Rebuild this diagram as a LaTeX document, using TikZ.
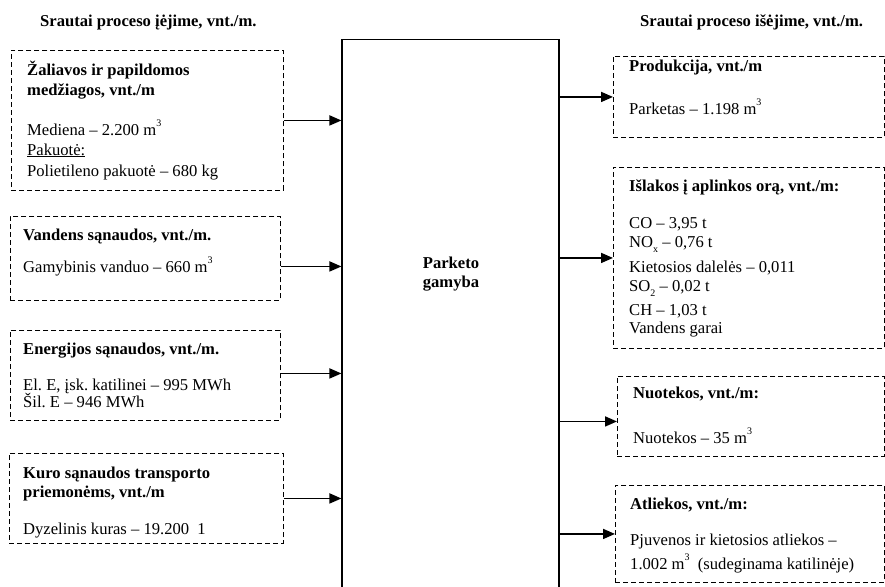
\documentclass[tikz,border=0pt]{standalone}
\usepackage{fontspec}
\setmainfont{Liberation Serif}
\usetikzlibrary{arrows.meta}
\frenchspacing
\tikzset{
 dbox/.style={draw, dash pattern=on 5pt off 3pt, line width=0.9pt, inner sep=0pt, anchor=north west},
 tl/.style={anchor=base west, inner sep=0pt, font=\fontsize{16.6}{20}\selectfont},
 tlb/.style={anchor=base west, inner sep=0pt, font=\fontsize{16.6}{20}\selectfont\bfseries},
 arr/.style={line width=1.7pt, -{Triangle[length=12pt,width=10pt]}},
}
\newcommand{\mcub}{\raisebox{8.5pt}{\fontsize{10}{10}\selectfont 3}}
\newcommand{\msub}[1]{\raisebox{-5pt}{\fontsize{10}{10}\selectfont #1}}
\begin{document}
\begin{tikzpicture}[x=1pt,y=-1pt]
\useasboundingbox (0,0) rectangle (885,586);
\begin{scope}
\clip (0,0) rectangle (885,586);
% headers
\node[tlb] (hin) at (40,27) {Srautai proceso įėjime, vnt./m.};
\node[tlb] (hout) at (640,27) {Srautai proceso išėjime, vnt./m.};
% central box
\node[draw, line width=1.1pt, minimum width=217pt, minimum height=600pt, anchor=north, inner sep=0pt] (c) at (450.5,39) {};
\node[font=\fontsize{16.6}{19}\selectfont\bfseries, align=left, inner sep=0pt] (ct) at (451,274) {Parketo\\gamyba};
% left boxes
\node[dbox, minimum width=272pt, minimum height=140pt] (b1) at (11,50) {};
\node[dbox, minimum width=270pt, minimum height=84pt] (b2) at (10,216) {};
\node[dbox, minimum width=270pt, minimum height=90pt] (b3) at (10,330) {};
\node[dbox, minimum width=274pt, minimum height=90pt] (b4) at (9,453) {};
% right boxes
\node[dbox, minimum width=271pt, minimum height=81pt] (r1) at (613,56) {};
\node[dbox, minimum width=271pt, minimum height=181pt] (r2) at (613,167) {};
\node[dbox, minimum width=267pt, minimum height=80pt] (r3) at (617,376) {};
\node[dbox, minimum width=269pt, minimum height=97pt] (r4) at (615,485) {};
% box 1 text
\node[tlb] (b1a) at (27,75) {Žaliavos ir papildomos};
\node[tlb] (b1b) at (27,95) {medžiagos, vnt./m};
\node[tl] (b1c) at (27,135) {Mediena – 2.200 m\mcub};
\node[tl] (b1d) at (27,155) {\underline{Pakuotė:}};
\node[tl] (b1e) at (27,176) {Polietileno pakuotė – 680 kg};
% box 2 text
\node[tlb] (b2a) at (23,240) {Vandens sąnaudos, vnt./m.};
\node[tl] (b2b) at (23,272) {Gamybinis vanduo – 660 m\mcub};
% box 3 text
\node[tlb] (b3a) at (23,354) {Energijos sąnaudos, vnt./m.};
\node[tl] (b3b) at (23,390) {El. E, įsk. katilinei – 995 MWh};
\node[tl] (b3c) at (23,407) {Šil. E – 946 MWh};
% box 4 text
\node[tlb] (b4a) at (23,478) {Kuro sąnaudos transporto};
\node[tlb] (b4b) at (23,497) {priemonėms, vnt./m};
\node[tl] (b4c) at (23,534) {Dyzelinis kuras – 19.200\ \ 1};
% right box 1 text
\node[tlb] (r1a) at (629,71) {Produkcija, vnt./m};
\node[tl] (r1b) at (629,114) {Parketas – 1.198 m\mcub};
% right box 2 text
\node[tlb] (r2a) at (629,191) {Išlakos į aplinkos orą, vnt./m:};
\node[tl] (r2b) at (629,228) {CO – 3,95 t};
\node[tl] (r2c) at (629,247) {NO\msub{x} – 0,76 t};
\node[tl] (r2d) at (629,272) {Kietosios dalelės – 0,011};
\node[tl] (r2e) at (629,291) {SO\msub{2} – 0,02 t};
\node[tl] (r2f) at (629,315) {CH – 1,03 t};
\node[tl] (r2g) at (629,333) {Vandens garai};
% right box 3 text
\node[tlb] (r3a) at (633,398) {Nuotekos, vnt./m:};
\node[tl] (r3b) at (633,443) {Nuotekos – 35 m\mcub};
% right box 4 text
\node[tlb] (r4a) at (630,509) {Atliekos, vnt./m:};
\node[tl] (r4b) at (630,545) {Pjuvenos ir kietosios atliekos –};
\node[tl] (r4c) at (630,569) {1.002 m\mcub\ \ (sudeginama katilinėje)};
% arrows in
\coordinate (b2o) at ([yshift=-8pt]b2.east);
\coordinate (b3o) at ([yshift=2pt]b3.east);
\draw[arr] (b1.east) -- (b1.east -| c.west);
\draw[arr] (b2o) -- (b2o -| c.west);
\draw[arr] (b3o) -- (b3o -| c.west);
\draw[arr] (b4.east) -- (b4.east -| c.west);
% arrows out
\coordinate (r3i) at ([yshift=-5pt]r3.west);
\draw[arr] (c.east |- r1.west) -- (r1.west);
\draw[arr] (c.east |- r2.west) -- (r2.west);
\draw[arr] (c.east |- r3i) -- (r3i);
\draw[arr] (c.east |- r4.west) -- (r4.west);
\end{scope}
\end{tikzpicture}
\end{document}
